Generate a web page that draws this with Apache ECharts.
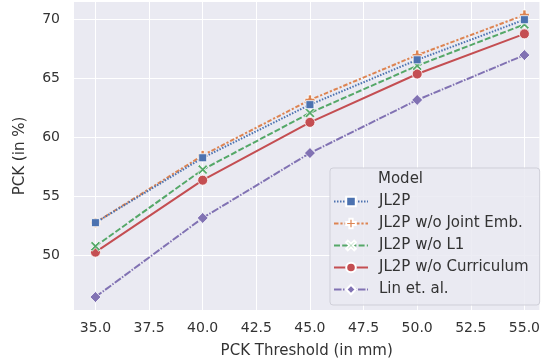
<!DOCTYPE html>
<html><head><meta charset="utf-8">
<script src="https://cdn.jsdelivr.net/npm/echarts@6/dist/echarts.min.js"></script>
<style>html,body{margin:0;padding:0;background:#fff}#c{width:543px;height:364px}</style>
</head><body><div id="c"></div>
<script>
var thresholds = [35, 40, 45, 50, 55];
var xTicks = [35, 37.5, 40, 42.5, 45, 47.5, 50, 52.5, 55];
var yTicks = [50, 55, 60, 65, 70];
var seriesNames = ['JL2P', 'JL2P w/o Joint Emb.', 'JL2P w/o L1', 'JL2P w/o Curriculum', 'Lin et. al.'];
var jl2p = [52.8, 58.3, 62.8, 66.6, 70.0];
var jointEmb = [52.8, 58.5, 63.2, 67.0, 70.4];
var woL1 = [50.8, 57.3, 62.1, 66.1, 69.6];
var curriculum = [50.3, 56.4, 61.3, 65.4, 68.8];
var lin = [46.5, 53.2, 58.7, 63.2, 67.0];

var colors = ['#4c72b0', '#dd8452', '#55a868', '#c44e52', '#8172b3'];
var symbols = ['rect',
  'path://M-1,-3H1V-1H3V1H1V3H-1V1H-3V-1H-1Z',
  'path://M-2,-3L0,-1L2,-3L3,-2L1,0L3,2L2,3L0,1L-2,3L-3,2L-1,0L-3,-2Z',
  'circle', 'diamond'];
var sizes = [8, 10, 10, 10, 11];
var dashes = [[1.5, 1.5], [4.5, 1.9, 2.2, 1.9], [6, 2.2], 'solid', [7.5, 1.5, 1.5, 1.5]];
var dataArr = [jl2p, jointEmb, woL1, curriculum, lin];

var font = 'DejaVu Sans';
var series = seriesNames.map(function (n, i) {
  return {
    name: n, type: 'line',
    data: thresholds.map(function (t, j) { return [t, dataArr[i][j]]; }),
    symbol: symbols[i], symbolSize: sizes[i], showSymbol: true,
    lineStyle: { color: colors[i], width: 2, type: dashes[i] },
    itemStyle: { color: colors[i], borderColor: '#fff', borderWidth: 0.8 },
    z: 10 - i
  };
});

var chart = echarts.init(document.getElementById('c'), null, { renderer: 'canvas' });
chart.setOption({
  animation: false,
  backgroundColor: '#fff',
  color: colors,
  grid: { left: 74, right: 0, top: 2, bottom: 54, show: true, backgroundColor: '#eaeaf2', borderWidth: 0 },
  xAxis: {
    type: 'value', min: 34, max: 55.7,
    name: 'PCK Threshold (in mm)', nameLocation: 'middle', nameGap: 34,
    nameTextStyle: { fontFamily: font, fontSize: 15, color: '#333' },
    axisLine: { show: false }, axisTick: { show: false, customValues: xTicks },
    axisLabel: { customValues: xTicks, fontFamily: font, fontSize: 14, color: '#333', margin: 11,
      formatter: function (v) { return v.toFixed(1); } },
    splitLine: { show: true, lineStyle: { color: '#fff', width: 1 } }
  },
  yAxis: {
    type: 'value', min: 45.4, max: 71.5,
    name: 'PCK (in %)', nameLocation: 'middle', nameGap: 46,
    nameTextStyle: { fontFamily: font, fontSize: 15, color: '#333' },
    axisLine: { show: false }, axisTick: { show: false, customValues: yTicks },
    axisLabel: { customValues: yTicks, fontFamily: font, fontSize: 14, color: '#333', margin: 14 },
    splitLine: { show: true, lineStyle: { color: '#fff', width: 1 } }
  },
  legend: {
    orient: 'vertical', left: 330, top: 168,
    padding: [26, 11, 8, 3],
    itemWidth: 34, itemHeight: 12, itemGap: 7,
    backgroundColor: 'rgba(234,234,242,0.85)', borderColor: '#cfcfd8', borderWidth: 1, borderRadius: 3,
    textStyle: { fontFamily: font, fontSize: 15, color: '#333', padding: [0, 0, 0, 6] },
    data: seriesNames
  },
  graphic: [{ type: 'text', left: 378, top: 172, z: 100,
    style: { text: 'Model', fontFamily: font, fontSize: 15, fill: '#333' } }],
  series: series
});
</script></body></html>
